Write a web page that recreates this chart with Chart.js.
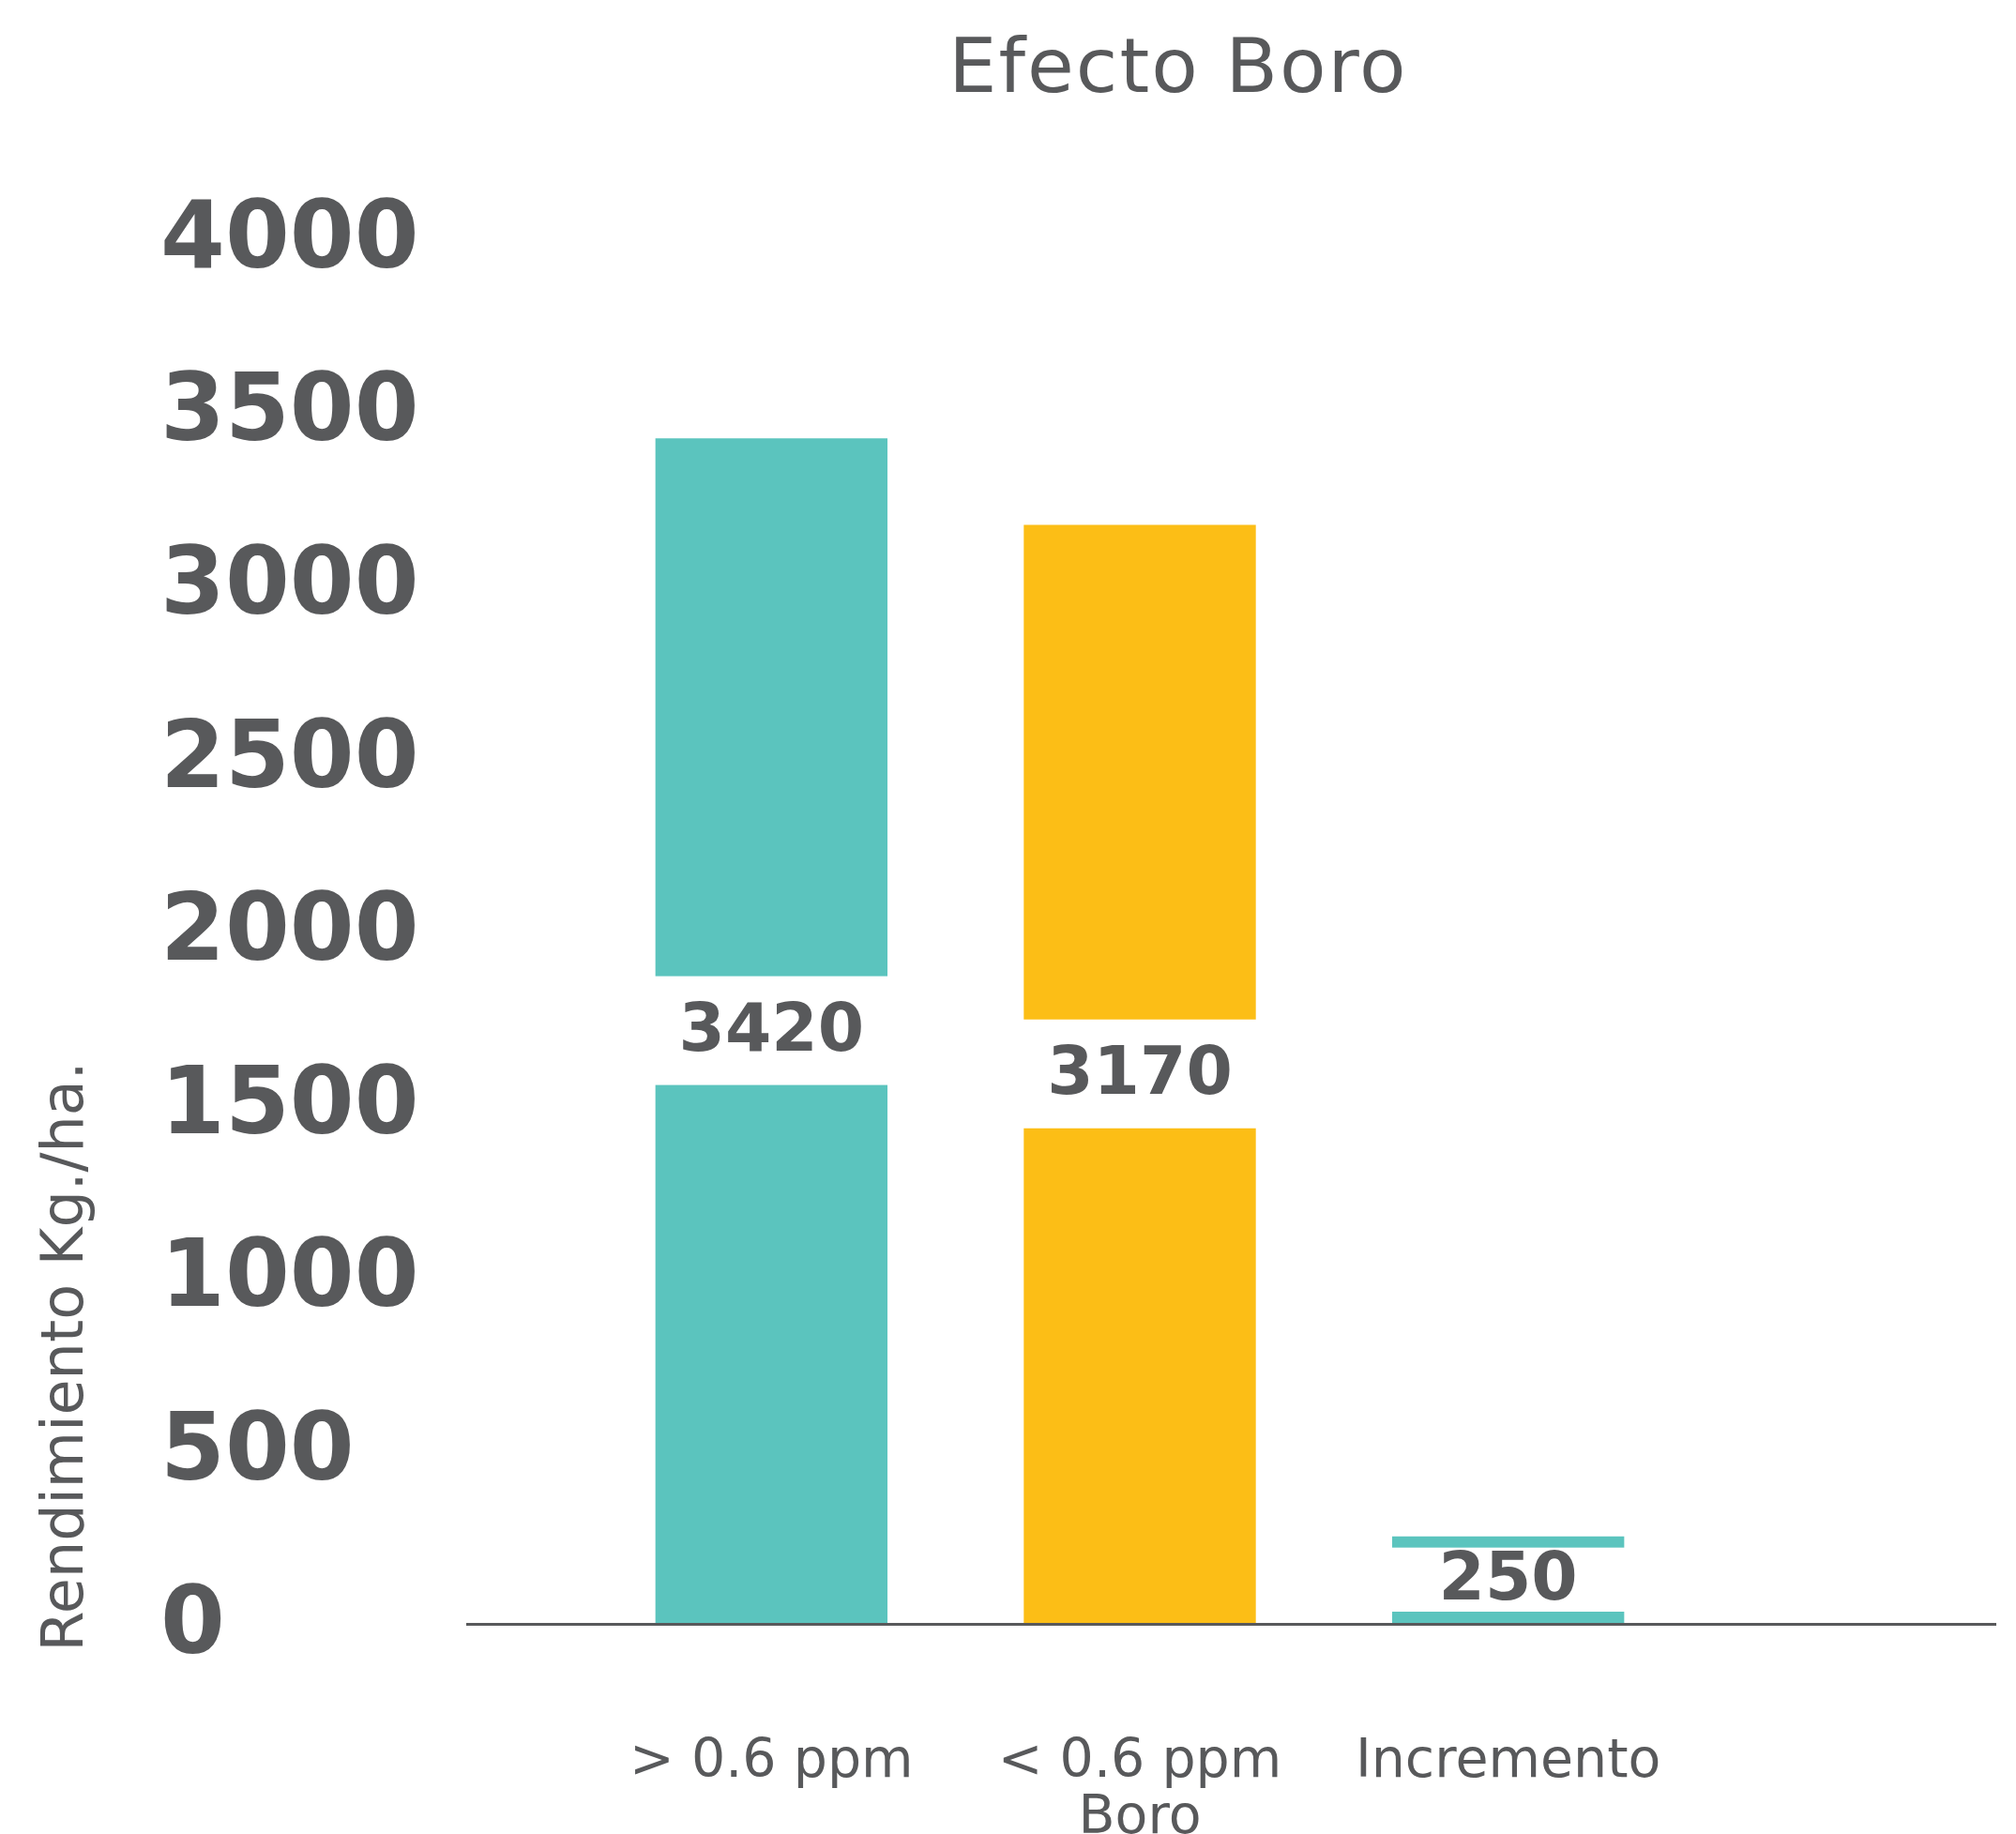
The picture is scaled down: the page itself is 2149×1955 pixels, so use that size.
<!DOCTYPE html>
<html>
<head>
<meta charset="utf-8">
<title>Efecto Boro</title>
<script src="https://cdn.jsdelivr.net/npm/chart.js@4/dist/chart.umd.min.js"></script>
<style>
  html, body { margin: 0; padding: 0; background: #ffffff; }
  canvas { display: block; }
</style>
</head>
<body>
<canvas id="chart" width="2149" height="1955"></canvas>
<script>
// Yield by soil boron level (kg/ha)
const categories = [['> 0.6 ppm'], ['< 0.6 ppm', 'Boro'], ['Incremento']];
const yieldValues = [3420, 3170, 250];
const barColors = ['#5BC4BE', '#FCBE16', '#5BC4BE'];
const yTickValues = [0, 500, 1000, 1500, 2000, 2500, 3000, 3500, 4000];
const chartTitle = 'Efecto Boro';
const yAxisTitle = 'Rendimiento Kg./ha.';

const TEXT = '#58595B';
const FONT = '"DejaVu Sans", sans-serif';

// Title text above the plot
const titlePlugin = {
  id: 'headline',
  afterDraw(chart) {
    const ctx = chart.ctx;
    ctx.save();
    ctx.fillStyle = TEXT;
    ctx.font = 'normal 81px ' + FONT;
    if ('letterSpacing' in ctx) ctx.letterSpacing = '2px';
    ctx.textAlign = 'center';
    ctx.textBaseline = 'middle';
    ctx.fillText(chartTitle, 1256, 77);
    ctx.restore();
  }
};

// Rotated y-axis caption, sitting low along the axis
const yCaptionPlugin = {
  id: 'yCaption',
  afterDraw(chart) {
    const ctx = chart.ctx;
    ctx.save();
    ctx.fillStyle = TEXT;
    ctx.font = 'normal 62px ' + FONT;
    ctx.textAlign = 'center';
    ctx.textBaseline = 'middle';
    ctx.translate(72, 1446);
    ctx.rotate(-Math.PI / 2);
    ctx.fillText(yAxisTitle, 0, 0);
    ctx.restore();
  }
};

// Baseline running under the bars, wider than the plot area
const baselinePlugin = {
  id: 'baseline',
  afterDatasetsDraw(chart) {
    const { ctx, chartArea, scales } = chart;
    const y = scales.y.getPixelForValue(0) + 1.5;
    ctx.save();
    ctx.strokeStyle = TEXT;
    ctx.lineWidth = 3;
    ctx.beginPath();
    ctx.moveTo(chartArea.left - 129, y);
    ctx.lineTo(chartArea.right + 324, y);
    ctx.stroke();
    ctx.restore();
  }
};

// Value printed in the middle of each bar on a white band
const valueLabelPlugin = {
  id: 'valueLabels',
  afterDatasetsDraw(chart) {
    const ctx = chart.ctx;
    const meta = chart.getDatasetMeta(0);
    const values = chart.data.datasets[0].data;
    ctx.save();
    meta.data.forEach((bar, i) => {
      const { x, y, base, width } = bar.getProps(['x', 'y', 'base', 'width'], true);
      const h = base - y;
      const mid = (y + base) / 2;
      const band = Math.min(116, h - 24);
      ctx.fillStyle = '#ffffff';
      ctx.fillRect(x - width / 2 - 1, mid - band / 2, width + 2, band);
      ctx.fillStyle = TEXT;
      ctx.font = 'bold 71px ' + FONT;
      ctx.textAlign = 'center';
      ctx.textBaseline = 'middle';
      ctx.fillText(String(values[i]), x, mid + 3);
    });
    ctx.restore();
  }
};

new Chart(document.getElementById('chart'), {
  type: 'bar',
  data: {
    labels: categories,
    datasets: [{
      data: yieldValues,
      backgroundColor: barColors,
      borderWidth: 0,
      barPercentage: 0.63,
      categoryPercentage: 1.0
    }]
  },
  options: {
    responsive: false,
    animation: false,
    devicePixelRatio: 1,
    layout: { padding: { top: 253, left: 171, right: 345, bottom: 0 } },
    plugins: {
      legend: { display: false },
      title: { display: false },
      tooltip: { enabled: false }
    },
    scales: {
      x: {
        type: 'category',
        offset: true,
        grid: { display: false, drawTicks: false },
        border: { display: false },
        ticks: {
          color: TEXT,
          font: { family: FONT, size: 57, weight: 'normal', lineHeight: 1.06 },
          padding: 119,
          maxRotation: 0,
          autoSkip: false
        },
        afterFit(scale) { scale.height = 225; }
      },
      y: {
        min: 0,
        max: 4000,
        grid: { display: false, drawTicks: false },
        border: { display: false },
        afterBuildTicks(scale) {
          scale.ticks = yTickValues.map(v => ({ value: v }));
        },
        ticks: {
          color: TEXT,
          font: { family: FONT, size: 99, weight: 'bold' },
          crossAlign: 'far',
          padding: 0,
          labelOffset: 6,
          callback: v => String(v)
        },
        afterFit(scale) { scale.width = 455; }
      }
    }
  },
  plugins: [titlePlugin, yCaptionPlugin, baselinePlugin, valueLabelPlugin]
});
</script>
</body>
</html>
